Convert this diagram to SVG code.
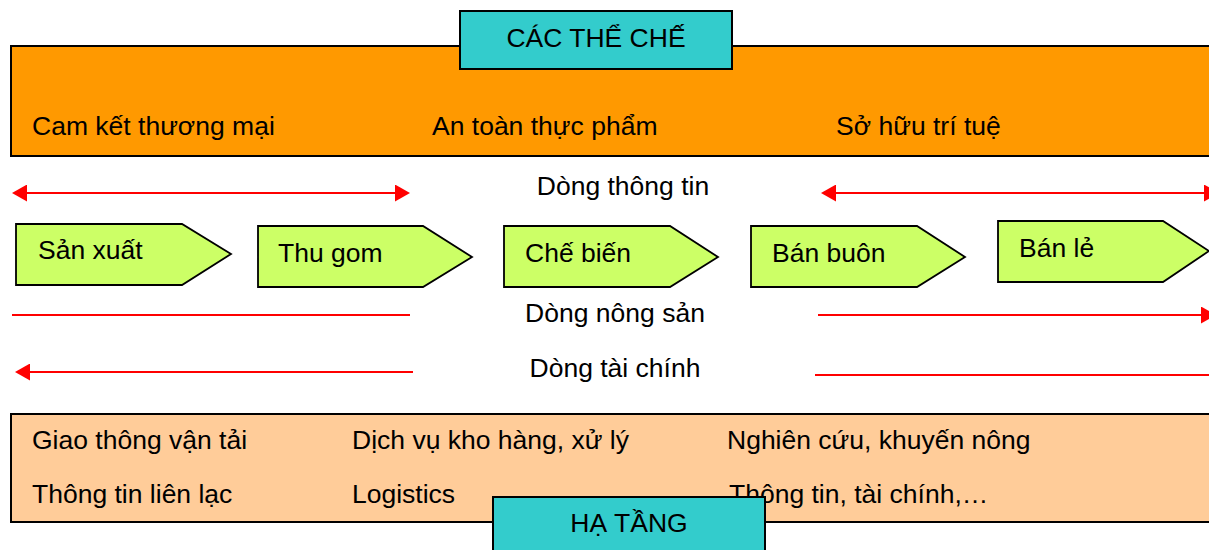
<svg xmlns="http://www.w3.org/2000/svg" width="1209" height="550" viewBox="0 0 1209 550">
<style>
text{font-family:"Liberation Sans",Arial,sans-serif;font-size:26.5px;fill:#000}
.box{stroke:#000;stroke-width:2}
.pent{fill:#CCFF66;stroke:#000;stroke-width:1.8}
.flow{stroke:#FF0000;stroke-width:2;fill:none}
.mid{text-anchor:middle}
</style>
<defs>
<marker id="ah" markerUnits="userSpaceOnUse" markerWidth="16" markerHeight="17" viewBox="0 0 16 17" refX="0" refY="8.5" orient="auto-start-reverse">
<path d="M0,0 L15,8.5 L0,17 z" fill="#FF0000"/>
</marker>
</defs>
<g id="institutions">
<rect class="box" x="11" y="46" width="1210" height="110" fill="#FF9900"/>
<text x="32" y="135">Cam kết thương mại</text>
<text x="432" y="135">An toàn thực phẩm</text>
<text x="836" y="135">Sở hữu trí tuệ</text>
</g>
<g id="institutions-title">
<rect class="box" x="460" y="11" width="272" height="58" fill="#33CCCC"/>
<text class="mid" x="596" y="47">CÁC THỂ CHẾ</text>
</g>
<g id="connectors">
<line class="flow" x1="27" y1="193" x2="395" y2="193" marker-start="url(#ah)" marker-end="url(#ah)"/>
<line class="flow" x1="836" y1="193" x2="1204" y2="193" marker-start="url(#ah)" marker-end="url(#ah)"/>
<line class="flow" x1="12" y1="315" x2="410" y2="315"/>
<line class="flow" x1="818" y1="315" x2="1201" y2="315" marker-end="url(#ah)"/>
<line class="flow" x1="30" y1="372" x2="413" y2="372" marker-start="url(#ah)"/>
<line class="flow" x1="815" y1="375" x2="1212" y2="375"/>
<text class="mid" x="623" y="195">Dòng thông tin</text>
<text class="mid" x="615" y="322">Dòng nông sản</text>
<text class="mid" x="615" y="377">Dòng tài chính</text>
</g>
<g id="san-xuat">
<polygon class="pent" points="16,224 182,224 231,254 182,285 16,285"/>
<text x="38" y="259">Sản xuất</text>
</g>
<g id="thu-gom">
<polygon class="pent" points="258,226 423,226 472,257 423,287 258,287"/>
<text x="278" y="262">Thu gom</text>
</g>
<g id="che-bien">
<polygon class="pent" points="504,226 670,226 718,257 670,287 504,287"/>
<text x="525" y="262">Chế biến</text>
</g>
<g id="ban-buon">
<polygon class="pent" points="751,226 917,226 965,257 917,287 751,287"/>
<text x="772" y="262">Bán buôn</text>
</g>
<g id="ban-le">
<polygon class="pent" points="998,221 1163,221 1209,251 1163,282 998,282"/>
<text x="1019" y="257">Bán lẻ</text>
</g>
<g id="infrastructure">
<rect class="box" x="11" y="414" width="1210" height="108" fill="#FFCC99"/>
<text x="32" y="449">Giao thông vận tải</text>
<text x="32" y="503">Thông tin liên lạc</text>
<text x="352" y="449">Dịch vụ kho hàng, xử lý</text>
<text x="352" y="503">Logistics</text>
<text x="727" y="449">Nghiên cứu, khuyến nông</text>
<text x="729" y="503">Thông tin, tài chính,…</text>
</g>
<g id="infrastructure-title">
<rect class="box" x="493" y="497" width="272" height="70" fill="#33CCCC"/>
<text class="mid" x="629" y="532">HẠ TẦNG</text>
</g>
</svg>
